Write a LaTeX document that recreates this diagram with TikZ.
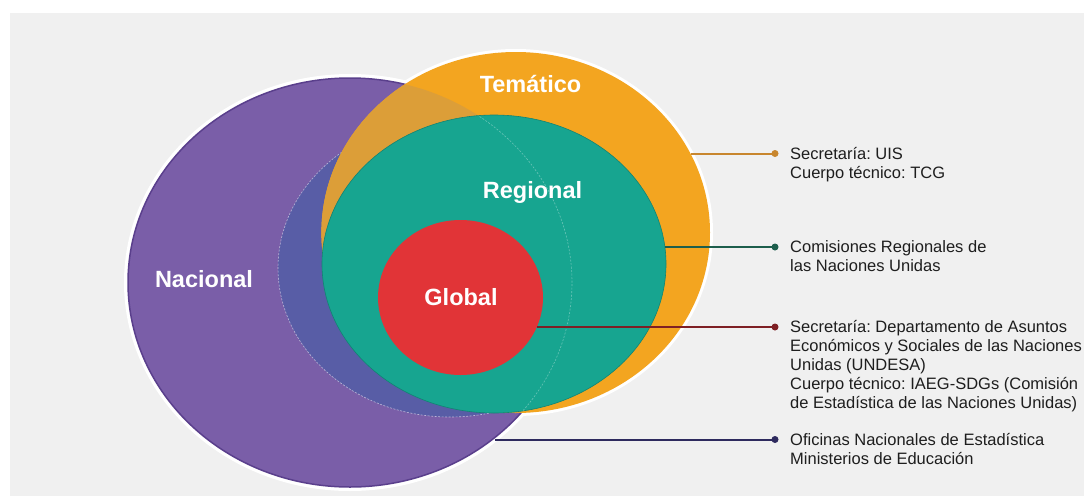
\documentclass[tikz,border=0pt]{standalone}
\usepackage{fontspec}
\setmainfont{Liberation Sans}
\usetikzlibrary{shapes.geometric}
\frenchspacing
\definecolor{bggray}{HTML}{F0F0F0}
\definecolor{nacpurple}{HTML}{7A5EA8}
\definecolor{nacedge}{HTML}{5A3F8C}
\definecolor{ovblue}{HTML}{585DA6}
\definecolor{temorange}{HTML}{F3A520}
\definecolor{temdark}{HTML}{DC9E38}
\definecolor{regteal}{HTML}{17A590}
\definecolor{globred}{HTML}{E13437}
\definecolor{lnorange}{HTML}{C8862E}
\definecolor{lngreen}{HTML}{1D5E4C}
\definecolor{lnred}{HTML}{7E1F24}
\definecolor{lnnavy}{HTML}{2E2A5E}
\definecolor{txtdark}{HTML}{1E1E1E}
\begin{document}
\begin{tikzpicture}[x=1pt,y=-1pt,
  region/.style={ellipse, inner sep=0pt, outer sep=0pt},
  conn/.style={line width=2pt},
  enddot/.style={circle, inner sep=0pt, outer sep=0pt, minimum size=7pt},
  side/.style={anchor=north west, inner sep=0pt, align=left, text=txtdark,
    font=\fontsize{16.5}{19}\selectfont},
  biglbl/.style={anchor=base, inner sep=0pt, text=white,
    font=\fontsize{23.5}{27}\selectfont\bfseries},
]
\useasboundingbox (0,0) rectangle (1084,496);
\fill[white] (0,0) rectangle (1084,496);
\fill[bggray] (10,13) rectangle (1084,496);

% white halos
\draw[white, line width=8pt] (350,282.5) ellipse [x radius=222pt, y radius=204.5pt];
\draw[white, line width=6pt] (515.7,232.5) ellipse [x radius=194.3pt, y radius=180.5pt];

% Nacional
\node[region, fill=nacpurple, draw=nacedge, line width=1.5pt,
  minimum width=444pt, minimum height=409pt] (nac) at (350,282.5) {};
% overlap band (blue)
\begin{scope}
  \clip (350,282.5) ellipse [x radius=221pt, y radius=203.5pt];
  \fill[ovblue] (450,268) ellipse [x radius=172pt, y radius=149pt];
  \draw[white, opacity=0.55, line width=0.6pt, dash pattern=on 2pt off 1.5pt]
    (450,268) ellipse [x radius=172pt, y radius=149pt];
\end{scope}

% Tematico
\node[region, fill=temorange, minimum width=388.6pt, minimum height=361pt] (tem) at (515.7,232.5) {};
\begin{scope}
  \clip (350,282.5) ellipse [x radius=222pt, y radius=204.5pt];
  \fill[temdark] (515.7,232.5) ellipse [x radius=194.3pt, y radius=180.5pt];
\end{scope}

% Regional
\node[region, fill=regteal, draw=regteal!80!black, line width=0.6pt,
  minimum width=344pt, minimum height=298pt] (reg) at (494,264) {};
\begin{scope}
  \clip (494,264) ellipse [x radius=172pt, y radius=149pt];
  \draw[white, opacity=0.35, line width=0.6pt, dash pattern=on 2pt off 1.5pt]
    (350,282.5) ellipse [x radius=222pt, y radius=204.5pt];
\end{scope}

% Global
\node[region, fill=globred, minimum width=165pt, minimum height=155pt] (glo) at (460.5,297.5) {};

% end dots
\node[enddot, fill=lnorange] (dT) at (775,153.5) {};
\node[enddot, fill=lngreen] (dR) at (775,247) {};
\node[enddot, fill=lnred] (dG) at (775,327) {};
\node[enddot, fill=lnnavy] (dN) at (775,439.5) {};

% connectors (horizontal, from each region's border)
\draw[conn, lnorange] (tem.24.33 |- dT) -- (dT.center);
\draw[conn, lngreen] (reg.5.68 |- dR) -- (dR.center);
\draw[conn, lnred] (glo.-21.14 |- dG) -- (dG.center);
\draw[conn, lnnavy] (nac.-47.84 |- dN) -- (dN.center);

% side texts
\node[side] (tT) at (790,146) {\rule{0pt}{13pt}Secretaría: UIS\\Cuerpo técnico: TCG};
\node[side] (tR) at (790,239.5) {\rule{0pt}{13pt}Comisiones Regionales de\\las Naciones Unidas};
\node[side] (tG) at (790,319.5) {\rule{0pt}{13pt}Secretaría: Departamento de Asuntos\\Económicos y Sociales de las Naciones\\Unidas (UNDESA)\\Cuerpo técnico: IAEG-SDGs (Comisión\\de Estadística de las Naciones Unidas)};
\node[side] (tN) at (790,432) {\rule{0pt}{13pt}Oficinas Nacionales de Estadística\\Ministerios de Educación};

% big labels
\node[biglbl] (lNac) at (204,287) {Nacional};
\node[biglbl] (lTem) at (530.5,92.5) {Temático};
\node[biglbl] (lReg) at (532.5,198) {Regional};
\node[biglbl] (lGlo) at (461,305) {Global};
\end{tikzpicture}
\end{document}
